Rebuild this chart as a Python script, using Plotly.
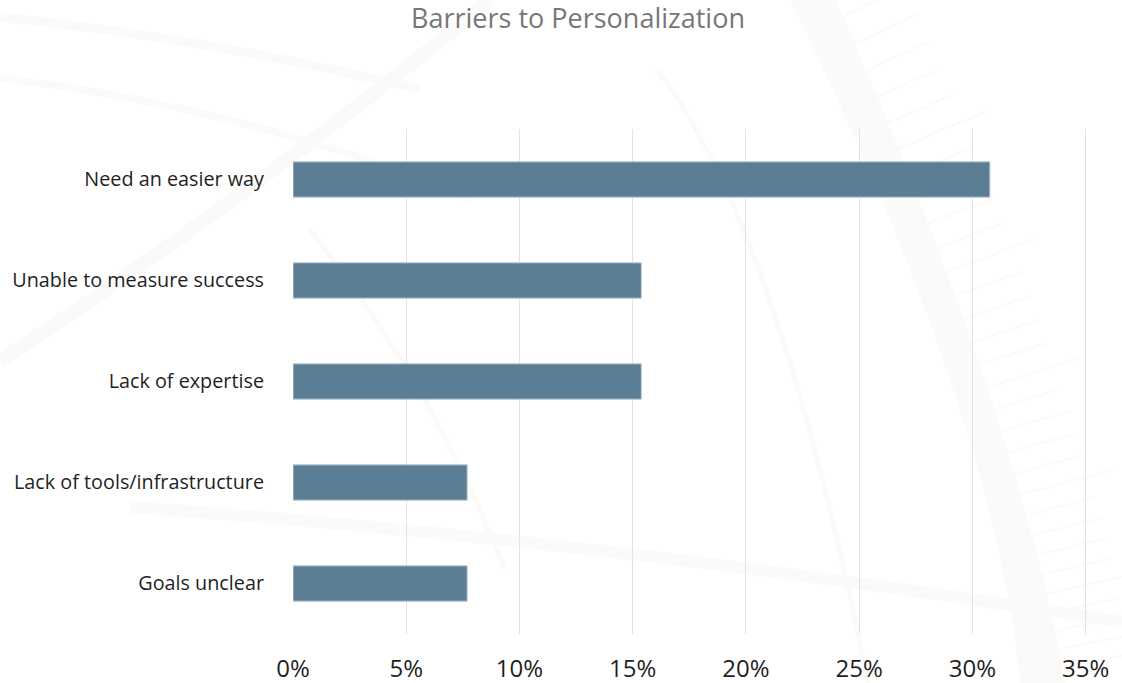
import numpy as np
import plotly.graph_objects as go

# Survey results: share of respondents citing each barrier (%)
categories = [
    "Need an easier way",
    "Unable to measure success",
    "Lack of expertise",
    "Lack of tools/infrastructure",
    "Goals unclear",
]
shares = [30.77, 15.38, 15.38, 7.69, 7.69]
tick_values = [0, 5, 10, 15, 20, 25, 30, 35]
tick_labels = ["0%", "5%", "10%", "15%", "20%", "25%", "30%", "35%"]

W, H = 1122, 683
ML, MR, MT, MB = 293, 25, 129, 49
PW, PH = W - ML - MR, H - MT - MB

BAR_COLOR = "#5b7e94"
BACKDROP = "#fbfaf8"


def to_paper(px, py):
    """Convert page pixel coordinates to paper coordinates."""
    return (px - ML) / PW, 1 - (py - MT) / PH


def pt(px, py):
    x, y = to_paper(px, py)
    return f"{x:.5f},{y:.5f}"


def qpoint(p0, c, p2, t):
    return ((1 - t) ** 2 * np.array(p0) + 2 * (1 - t) * t * np.array(c)
            + t ** 2 * np.array(p2))


# Faint compass-style backdrop artwork
shapes = []

# thick curved band on the right
outer = [(790, 0), (995, 418), (1020, 683)]
inner = [(836, 0), (1019, 418), (1065, 683)]
band = (f"M {pt(*outer[0])} Q {pt(*outer[1])} {pt(*outer[2])} "
        f"L {pt(*inner[2])} Q {pt(*inner[1])} {pt(*inner[0])} Z")
shapes.append(dict(type="path", path=band, xref="paper", yref="paper",
                   fillcolor=BACKDROP, line=dict(width=0), layer="below"))

# hash marks along the band's outer side
for i, t in enumerate(np.linspace(0.02, 0.97, 30)):
    x0, y0 = qpoint(*inner, t)
    ang = np.deg2rad(26 - 16 * t)
    length = 95 if i % 5 == 0 else 70
    x1, y1 = x0 + length * np.cos(ang), y0 - length * np.sin(ang)
    shapes.append(dict(type="path", path=f"M {pt(x0, y0)} L {pt(x1, y1)}",
                       xref="paper", yref="paper",
                       line=dict(color=BACKDROP, width=2), layer="below"))

# thinner arcs and sweeps
arcs = [
    ([(657, 70), (777, 224), (868, 683)], 5),
    ([(130, 507), (600, 540), (1122, 622)], 12),
    ([(0, 17), (220, 40), (420, 90)], 9),
    ([(0, 78), (260, 110), (470, 200)], 7),
    ([(0, 361), (260, 190), (490, 0)], 14),
    ([(310, 230), (430, 380), (505, 570)], 5),
]
for (p0, c, p2), w in arcs:
    shapes.append(dict(type="path", path=f"M {pt(*p0)} Q {pt(*c)} {pt(*p2)}",
                       xref="paper", yref="paper",
                       line=dict(color=BACKDROP, width=w), layer="below"))

fig = go.Figure(
    go.Bar(
        x=shares,
        y=categories,
        orientation="h",
        width=0.35,
        marker=dict(color=BAR_COLOR, line=dict(color="#b9c9d5", width=1)),
        hoverinfo="x+y",
    )
)

fig.update_layout(
    width=W,
    height=H,
    margin=dict(l=ML, r=MR, t=MT, b=MB, pad=0, autoexpand=False),
    paper_bgcolor="white",
    plot_bgcolor="rgba(0,0,0,0)",
    showlegend=False,
    shapes=shapes,
    font=dict(family="Open Sans, Lato, sans-serif", color="#1f1f1f"),
    title=dict(
        text="Barriers to Personalization",
        font=dict(size=27, color="#777777", family="Open Sans, Lato, sans-serif"),
        x=578 / W,
        xref="container",
        xanchor="center",
        y=1 - 19 / H,
        yref="container",
        yanchor="middle",
    ),
    xaxis=dict(
        range=[0, 35.5],
        tickvals=tick_values,
        ticktext=tick_labels,
        showgrid=True,
        gridcolor="#e2e2e2",
        gridwidth=1,
        zeroline=False,
        showline=False,
        ticks="",
        tickfont=dict(size=24, color="#1f1f1f"),
        ticklabelstandoff=18,
        automargin=False,
        fixedrange=True,
    ),
    yaxis=dict(
        categoryorder="array",
        categoryarray=categories[::-1],
        showgrid=False,
        zeroline=False,
        showline=False,
        ticks="",
        tickfont=dict(size=19.8, color="#1f1f1f"),
        ticklabelstandoff=28,
        automargin=False,
        fixedrange=True,
    ),
)

fig.write_html("out.html")
